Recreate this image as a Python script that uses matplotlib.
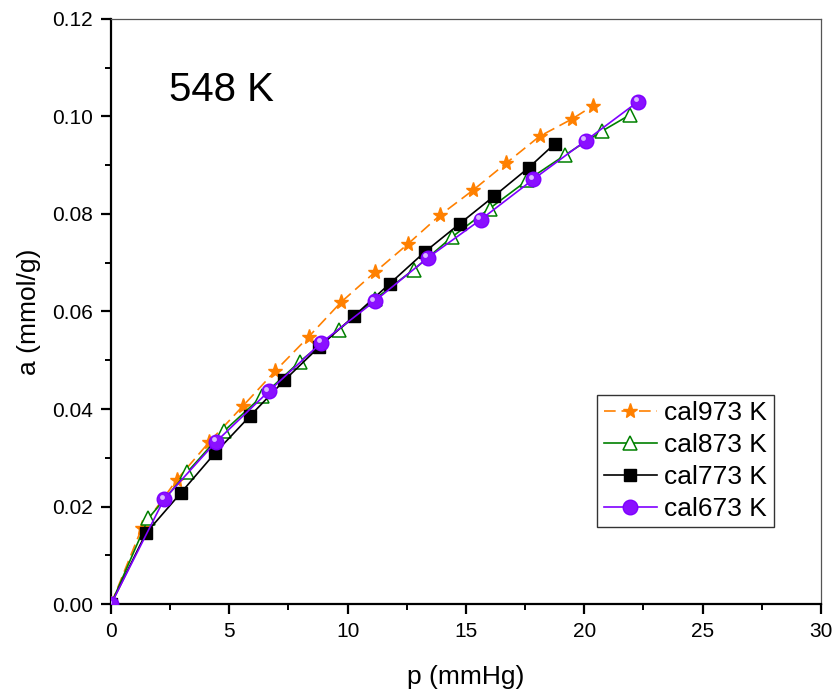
import numpy as np
import matplotlib
matplotlib.use("Agg")
import matplotlib.pyplot as plt
from matplotlib.ticker import MultipleLocator, FormatStrFormatter

plt.rcParams['font.family'] = ['Liberation Sans', 'DejaVu Sans']

# cal973 K
p973 = [0, 1.30, 2.78, 4.16, 5.57, 6.94, 8.35, 9.72, 11.14, 12.54, 13.92, 15.31, 16.70, 18.11, 19.50, 20.38]
a973 = [0, 0.0156, 0.0255, 0.0333, 0.0406, 0.0478, 0.0548, 0.0619, 0.0680, 0.0738, 0.0798, 0.0849, 0.0904, 0.0959, 0.0995, 0.1022]
# cal873 K
p873 = [0, 1.58, 3.23, 4.78, 6.40, 7.97, 9.62, 11.17, 12.80, 14.42, 16.00, 17.60, 19.20, 20.76, 21.93]
a873 = [0, 0.0176, 0.0271, 0.0355, 0.0427, 0.0497, 0.0562, 0.0626, 0.0686, 0.0753, 0.0811, 0.0869, 0.0921, 0.0970, 0.1003]
# cal773 K
p773 = [0, 1.47, 2.95, 4.40, 5.88, 7.33, 8.81, 10.28, 11.78, 13.26, 14.74, 16.18, 17.66, 18.76]
a773 = [0, 0.0145, 0.0228, 0.0310, 0.0386, 0.0459, 0.0528, 0.0591, 0.0657, 0.0722, 0.0780, 0.0836, 0.0895, 0.0944]
# cal673 K
p673 = [0, 2.24, 4.44, 6.66, 8.89, 11.14, 13.39, 15.62, 17.85, 20.06, 22.27]
a673 = [0, 0.0215, 0.0333, 0.0436, 0.0536, 0.0621, 0.0710, 0.0788, 0.0871, 0.0950, 0.1030]

fig = plt.figure(figsize=(8.35, 6.96), dpi=100)
ax = fig.add_axes([0.133, 0.132, 0.850, 0.841])

ax.plot(p973, a973, color='#FF8000', lw=1.2, ls=(0, (7, 3.5)), marker='*', ms=11,
        mec='#FF8000', mfc='#FF8000', label='cal973 K', zorder=3)
ax.plot(p873, a873, color='#008000', lw=1.2, marker='^', ms=10,
        mec='#008000', mfc='white', mew=1.1, label='cal873 K', zorder=3)
ax.plot(p773, a773, color='black', lw=1.2, marker='s', ms=8.5,
        mec='black', mfc='black', label='cal773 K', zorder=4)
ax.plot(p673, a673, color='#7F00FF', lw=1.2, marker='o', ms=10.5,
        mec='#7F00FF', mfc='#8A10FF', label='cal673 K', zorder=5)
# highlight on the spheres
ax.plot(np.array(p673) - 0.1, np.array(a673) + 0.0005, ls='none', marker='o', ms=3.5,
        mfc='#D9B8FF', mec='none', zorder=6)

ax.set_xlim(0, 30)
ax.set_ylim(0, 0.12)
ax.xaxis.set_major_locator(MultipleLocator(5))
ax.xaxis.set_minor_locator(MultipleLocator(2.5))
ax.yaxis.set_major_locator(MultipleLocator(0.02))
ax.yaxis.set_minor_locator(MultipleLocator(0.01))
ax.yaxis.set_major_formatter(FormatStrFormatter('%.2f'))

for s in ['left', 'bottom']:
    ax.spines[s].set_linewidth(1.6)
for s in ['top', 'right']:
    ax.spines[s].set_linewidth(0.9)
    ax.spines[s].set_color('#555555')

ax.tick_params(which='major', direction='out', length=7, width=1.6, labelsize=15, pad=6)
ax.tick_params(which='minor', direction='out', length=4, width=1.4)
ax.tick_params(top=False, right=False)

ax.set_xlabel('p (mmHg)', fontsize=19, labelpad=17)
ax.set_ylabel('a (mmol/g)', fontsize=19, labelpad=8)

ax.text(2.45, 0.1055, '548 K', fontsize=29, ha='left', va='center')

handles, labels = ax.get_legend_handles_labels()
leg = ax.legend(handles[:4], labels[:4], loc='lower right', bbox_to_anchor=(0.934, 0.131),
                fontsize=19, frameon=True, fancybox=False, edgecolor='black',
                handlelength=2.0, handletextpad=0.3, labelspacing=0.3, borderpad=0.25,
                borderaxespad=0)
leg.get_frame().set_linewidth(1.0)

fig.savefig('out.png', dpi=100)
